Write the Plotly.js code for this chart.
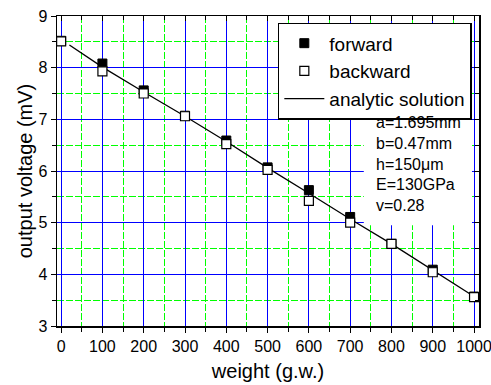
<!DOCTYPE html>
<html>
<head>
<meta charset="utf-8">
<script src="https://cdn.plot.ly/plotly-3.0.1.min.js"></script>
<style>html,body{margin:0;padding:0;background:#fff;}#chart{width:491px;height:385px;}</style>
</head>
<body>
<div id="chart"></div>
<script>
const weights = [0, 100, 200, 300, 400, 500, 600, 700, 800, 900, 1000];
const forwardV = [8.52, 8.08, 7.56, 7.07, 6.59, 6.07, 5.63, 5.11, 4.59, 4.09, 3.57];
const backwardV = [8.51, 7.93, 7.50, 7.06, 6.52, 6.02, 5.42, 5.00, 4.59, 4.04, 3.56];
const analyticX = [20, 100, 200, 300, 400, 500, 600, 700, 800, 900, 1000];
const analyticY = [8.44, 8.01, 7.53, 7.06, 6.57, 6.06, 5.57, 5.07, 4.59, 4.08, 3.57];
const paramLines = ["a=1.695mm", "b=0.47mm", "h=150\u03bcm", "E=130GPa", "v=0.28"];
const xTitle = "weight (g.w.)";
const yTitle = "output voltage (mV)";

const FONT = "Liberation Sans, Arial, sans-serif";
const xr = [-10, 1012];
const yr = [3, 9];
const GREEN = '#00ff00';

const traces = [
  {x: analyticX, y: analyticY, mode: 'lines', name: 'analytic solution', legendrank: 3,
   line: {color: '#000', width: 1.3}},
  {x: weights, y: forwardV, mode: 'markers', name: 'forward', legendrank: 1,
   marker: {symbol: 'square', size: 9, color: '#000', line: {color: '#000', width: 1}}},
  {x: weights, y: backwardV, mode: 'markers', name: 'backward', legendrank: 2,
   marker: {symbol: 'square', size: 9, color: '#fff', line: {color: '#000', width: 1.2}}},
  {x: [null], y: [null], xaxis: 'x2', yaxis: 'y2', showlegend: false, hoverinfo: 'skip', mode: 'markers'}
];

const layout = {
  width: 491, height: 385,
  margin: {l: 57, r: 12, t: 16, b: 59},
  paper_bgcolor: '#fff', plot_bgcolor: '#fff',
  font: {family: FONT, color: '#000', size: 16},
  showlegend: true,
  legend: {
    x: 0.983, y: 0.978, xanchor: 'right', yanchor: 'top',
    bgcolor: '#fff', bordercolor: '#000', borderwidth: 1.5,
    font: {family: FONT, size: 19, color: '#000'},
    traceorder: 'normal', itemwidth: 40,
    tracegroupgap: 0
  },
  xaxis: {
    range: xr, dtick: 100, tick0: 0, tickmode: 'linear',
    showline: true, linecolor: '#000', linewidth: 1.5, mirror: true,
    ticks: 'outside', ticklen: 5, tickwidth: 1, tickcolor: '#000',
    showgrid: true, gridcolor: '#0000ff', gridwidth: 1,
    zeroline: false, ticklabeloverflow: 'allow',
    tickfont: {family: FONT, size: 16},
    minor: {dtick: 50, tick0: 0, ticks: 'outside', ticklen: 4, tickcolor: '#000',
            showgrid: true, gridcolor: GREEN, griddash: '7px,2px', gridwidth: 1},
    title: {text: xTitle, font: {family: FONT, size: 20}, standoff: 10}
  },
  yaxis: {
    range: yr, dtick: 1, tick0: 3, tickmode: 'linear',
    showline: true, linecolor: '#000', linewidth: 1.5, mirror: true,
    ticks: 'outside', ticklen: 5, tickwidth: 1, tickcolor: '#000',
    showgrid: true, gridcolor: '#0000ff', gridwidth: 1,
    zeroline: false,
    tickfont: {family: FONT, size: 16},
    minor: {dtick: 0.5, tick0: 3, ticks: 'outside', ticklen: 4, tickcolor: '#000',
            showgrid: true, gridcolor: GREEN, griddash: '7px,2px', gridwidth: 1},
    title: {text: yTitle, font: {family: FONT, size: 20}, standoff: 0}
  },
  xaxis2: {
    overlaying: 'x', side: 'top', anchor: 'y', range: xr, dtick: 100, tick0: 0,
    ticks: 'inside', ticklen: 5, tickcolor: '#000', showticklabels: false,
    showgrid: false, zeroline: false, showline: false,
    minor: {dtick: 50, tick0: 0, ticks: 'inside', ticklen: 4, tickcolor: '#000', showgrid: false}
  },
  yaxis2: {
    overlaying: 'y', side: 'right', anchor: 'x', range: yr, dtick: 1, tick0: 3,
    ticks: 'inside', ticklen: 5, tickcolor: '#000', showticklabels: false,
    showgrid: false, zeroline: false, showline: false,
    minor: {dtick: 0.5, tick0: 3, ticks: 'inside', ticklen: 4, tickcolor: '#000', showgrid: false}
  },
  shapes: [
    {type: 'rect', xref: 'x', yref: 'y', x0: 733, x1: 995, y0: 4.95, y1: 7.31,
     fillcolor: '#ffffff', opacity: 1, line: {width: 0}, layer: 'between'}
  ],
  annotations: [
    {xref: 'paper', yref: 'paper', x: (374 - 57) / 422, y: (326 - 112) / 310,
     xanchor: 'left', yanchor: 'top', align: 'left', showarrow: false,
     text: paramLines.join('<br>'), font: {family: FONT, size: 16, color: '#000'}}
  ]
};

Plotly.newPlot('chart', traces, layout, {displayModeBar: false, staticPlot: true});
</script>
</body>
</html>
